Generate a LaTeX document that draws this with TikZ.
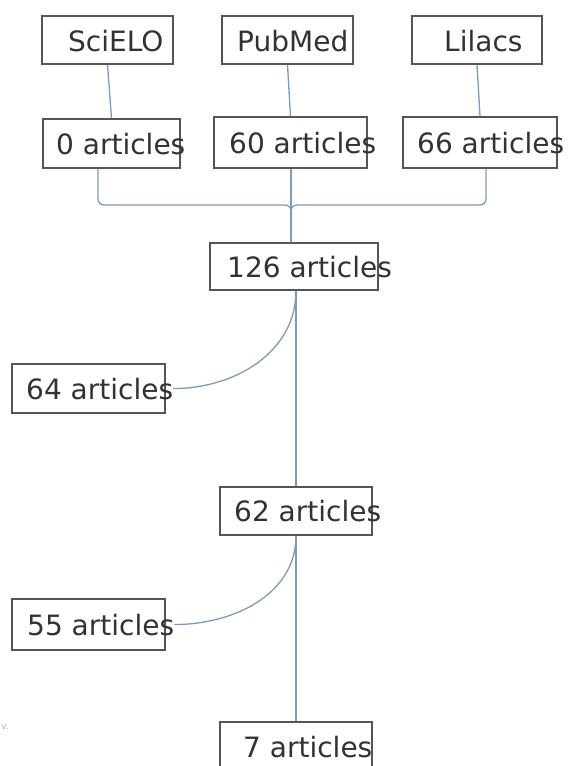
\documentclass[tikz,border=0pt]{standalone}
\usepackage{fontspec}
\setmainfont{DejaVu Sans}
\definecolor{boxline}{RGB}{85,85,85}
\definecolor{txtcol}{RGB}{50,50,50}
\definecolor{conn}{RGB}{125,155,190}
\begin{document}
\begin{tikzpicture}[x=1pt,y=-1pt,
  box/.style={draw=boxline,line width=1.5pt,rectangle,inner sep=0pt,fill=none},
  txt/.style={anchor=base west,inner sep=0pt,text=txtcol,font=\fontsize{28}{32}\selectfont},
  link/.style={draw=conn,line width=1.3pt}]
\clip (0,0) rectangle (569,766);
\fill[white] (0,0) rectangle (569,766);
% boxes
\node[box,minimum width=131pt,minimum height=48pt] (scielo) at (107.5,40) {};
\node[box,minimum width=131pt,minimum height=48pt] (pubmed) at (287.5,40) {};
\node[box,minimum width=130pt,minimum height=48pt] (lilacs) at (477,40) {};
\node[box,minimum width=137pt,minimum height=49pt] (a0) at (111.5,143.5) {};
\node[box,minimum width=153pt,minimum height=51pt] (a60) at (290.5,142.5) {};
\node[box,minimum width=154pt,minimum height=51pt] (a66) at (480,142.5) {};
\node[box,minimum width=168pt,minimum height=47pt] (a126) at (294,266.5) {};
\node[box,minimum width=153pt,minimum height=49pt] (a64) at (88.5,388.5) {};
\node[box,minimum width=152pt,minimum height=48pt] (a62) at (296,511) {};
\node[box,minimum width=153pt,minimum height=51pt] (a55) at (88.5,624.5) {};
\node[box,minimum width=152pt,minimum height=50pt] (a7) at (296,747) {};
% texts
\node[txt] (tscielo) at (68,51) {SciELO};
\node[txt] (tpubmed) at (237,51) {PubMed};
\node[txt] (tlilacs) at (444,51) {Lilacs};
\node[txt] (t0) at (56,154.5) {0 articles};
\node[txt] (t60) at (229,153.5) {60 articles};
\node[txt] (t66) at (417,153.5) {66 articles};
\node[txt] (t126) at (227,277) {126 articles};
\node[txt] (t64) at (26,399) {64 articles};
\node[txt] (t62) at (234,521.5) {62 articles};
\node[txt] (t55) at (27,635) {55 articles};
\node[txt] (t7) at (243,757.5) {7 articles};
\node[anchor=west,inner sep=0pt,text=gray!60,font=\fontsize{9}{10}\selectfont] (frag) at (1,727) {v.};
% connectors
\coordinate (jn) at (291,205);
\draw[link] (scielo.south) -- (a0.north);
\draw[link] (pubmed.south) -- (a60.north);
\draw[link] (lilacs.south) -- (a66.north);
\draw[link,rounded corners=6pt] ([xshift=-13.5pt]a0.south) |- (jn) -- (jn |- a126.north);
\draw[link,rounded corners=6pt] ([xshift=6pt]a66.south) |- (jn) -- (jn |- a126.north);
\draw[link] (jn |- a60.south) -- (jn |- a126.north);
\draw[link] (a62.north |- a126.south) to[out=-90,in=0] (t64.east);
\draw[link] (a62.north |- a126.south) -- (a62.north);
\draw[link] (a62.south) to[out=-90,in=0] (t55.east);
\draw[link] (a62.south) -- (a7.north);
\end{tikzpicture}
\end{document}
